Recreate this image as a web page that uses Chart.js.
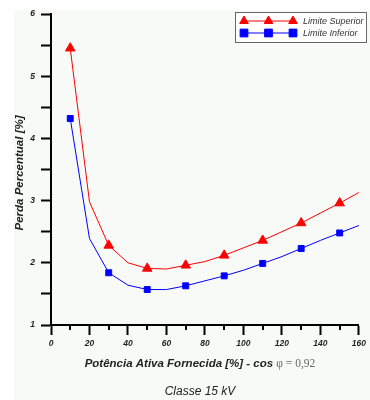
<!DOCTYPE html>
<html>
<head>
<meta charset="utf-8">
<script src="https://cdn.jsdelivr.net/npm/chart.js@4.4.0/dist/chart.umd.min.js"></script>
<style>
  html, body { margin: 0; padding: 0; background: #fff; }
  #wrap { width: 370px; height: 400px; }
</style>
</head>
<body>
<div id="wrap"><canvas id="chart" width="370" height="400"></canvas></div>
<script>
// Values (Classe 15 kV)
const potencia = [10, 20, 30, 40, 50, 60, 70, 80, 90, 100, 110, 120, 130, 140, 150, 160];
const limiteSuperior = [5.45, 2.98, 2.28, 2.00, 1.91, 1.90, 1.96, 2.02, 2.12, 2.24, 2.36, 2.50, 2.64, 2.80, 2.96, 3.13];
const limiteInferior = [4.32, 2.39, 1.84, 1.64, 1.57, 1.57, 1.63, 1.71, 1.79, 1.88, 1.99, 2.10, 2.23, 2.36, 2.48, 2.60];
const markedX = [10, 30, 50, 70, 90, 110, 130, 150];
const xLabels = [0, 20, 40, 60, 80, 100, 120, 140, 160];
const yLabels = [1, 2, 3, 4, 5, 6];

const RED = '#ff0000';
const BLUE = '#0000ff';
const tickFont = { family: 'Liberation Sans, Arial', size: 8.5, weight: 'bold', style: 'italic' };

const toPoints = (vals) => potencia.map((x, i) => ({ x: x, y: vals[i] }));
const markerRadius = (r) => (ctx) => (markedX.includes(ctx.raw.x) ? r : 0);

// Background panel, titles, minor x ticks and boxed legend
const decorations = {
  id: 'decorations',
  beforeDraw(chart) {
    const c = chart.ctx;
    c.save();
    c.fillStyle = '#ffffff';
    c.fillRect(0, 0, chart.width, chart.height);
    c.fillStyle = '#f8faf8';
    c.fillRect(14, 10, chart.width - 14, chart.height - 10);
    c.restore();
  },
  afterDraw(chart) {
    const c = chart.ctx;
    const xs = chart.scales.x;
    const area = chart.chartArea;
    c.save();

    // short minor ticks on the x axis
    c.strokeStyle = '#000';
    c.lineWidth = 2;
    potencia.forEach((v) => {
      if (v % 20 === 0) return;
      const px = Math.round(xs.getPixelForValue(v));
      c.beginPath();
      c.moveTo(px, area.bottom);
      c.lineTo(px, area.bottom + 5);
      c.stroke();
    });

    // y title
    c.fillStyle = '#222';
    c.font = 'italic bold 11.5px "Liberation Sans", Arial';
    c.textAlign = 'center';
    c.textBaseline = 'middle';
    c.save();
    c.translate(20, 173);
    c.rotate(-Math.PI / 2);
    c.fillText('Perda Percentual [%]', 0, 0);
    c.restore();

    // x title, mixed fonts
    const part1 = 'Potência Ativa Fornecida [%] - cos ';
    const part2 = 'φ = 0,92';
    const f1 = 'italic bold 11.5px "Liberation Sans", Arial';
    const f2 = '11.5px "Liberation Serif", "Times New Roman"';
    c.font = f1;
    const w1 = c.measureText(part1).width;
    c.font = f2;
    const w2 = c.measureText(part2).width;
    const x0 = 200 - (w1 + w2) / 2;
    c.textAlign = 'left';
    c.font = f1;
    c.fillStyle = '#222';
    c.fillText(part1, x0, 364);
    c.font = f2;
    c.fillStyle = '#666';
    c.fillText(part2, x0 + w1, 364);

    c.font = 'italic 12px "Liberation Sans", Arial';
    c.fillStyle = '#222';
    c.textAlign = 'center';
    c.fillText('Classe 15 kV', 200, 392);

    // legend
    c.fillStyle = '#ffffff';
    c.fillRect(235.5, 12.5, 131, 30);
    c.strokeStyle = '#666';
    c.lineWidth = 1;
    c.strokeRect(235.5, 12.5, 131, 30);
    chart.data.datasets.forEach((ds, i) => {
      const y = 21 + i * 12;
      c.strokeStyle = ds.borderColor;
      c.lineWidth = 1;
      c.beginPath();
      c.moveTo(244, y);
      c.lineTo(293, y);
      c.stroke();
      c.fillStyle = ds.pointBackgroundColor;
      c.strokeStyle = ds.borderColor;
      [244, 268.5, 293].forEach((mx) => {
        Chart.helpers.drawPoint(c, {
          pointStyle: ds.pointStyle, rotation: 0, radius: ds.legendRadius, borderWidth: 1,
        }, mx, y);
      });
      c.fillStyle = '#333';
      c.font = 'italic 9px "Liberation Sans", Arial';
      c.textAlign = 'left';
      c.textBaseline = 'middle';
      c.fillText(ds.label, 303, y);
    });
    c.restore();
  },
};

new Chart(document.getElementById('chart'), {
  type: 'line',
  data: {
    datasets: [
      {
        label: 'Limite Superior',
        data: toPoints(limiteSuperior),
        borderColor: RED,
        backgroundColor: RED,
        pointBackgroundColor: RED,
        pointBorderColor: RED,
        borderWidth: 1,
        tension: 0,
        pointStyle: 'triangle',
        pointRadius: markerRadius(5.5),
        legendRadius: 5,
        pointBorderWidth: 1,
      },
      {
        label: 'Limite Inferior',
        data: toPoints(limiteInferior),
        borderColor: BLUE,
        backgroundColor: BLUE,
        pointBackgroundColor: BLUE,
        pointBorderColor: BLUE,
        borderWidth: 1,
        tension: 0,
        pointStyle: 'rect',
        pointRadius: markerRadius(4.2),
        legendRadius: 5.5,
        pointBorderWidth: 1,
      },
    ],
  },
  options: {
    responsive: false,
    animation: false,
    devicePixelRatio: 1,
    layout: {
      padding: { left: 0, right: 8, top: 14, bottom: 0 },
    },
    scales: {
      x: {
        type: 'linear',
        min: 0,
        max: 160,
        afterFit: (scale) => { scale.height = 75; },
        afterBuildTicks: (scale) => {
          scale.ticks = xLabels.map((v) => ({ value: v }));
        },
        ticks: {
          font: tickFont,
          color: '#222',
          padding: 4,
          maxRotation: 0,
        },
        grid: {
          drawOnChartArea: false,
          drawTicks: true,
          tickLength: 10,
          tickWidth: 2,
          tickColor: '#000',
        },
        border: { display: true, color: '#000', width: 2 },
      },
      y: {
        min: 1,
        max: 6,
        afterFit: (scale) => { scale.width = 51; },
        ticks: {
          stepSize: 0.5,
          font: tickFont,
          color: '#222',
          padding: 6,
          callback: (v) => (yLabels.includes(v) ? v : ''),
        },
        grid: {
          drawOnChartArea: false,
          drawTicks: true,
          tickLength: 10,
          tickWidth: 2,
          tickColor: '#000',
        },
        border: { display: true, color: '#000', width: 2 },
      },
    },
    plugins: {
      legend: { display: false },
      tooltip: { enabled: false },
    },
  },
  plugins: [decorations],
});
</script>
</body>
</html>
